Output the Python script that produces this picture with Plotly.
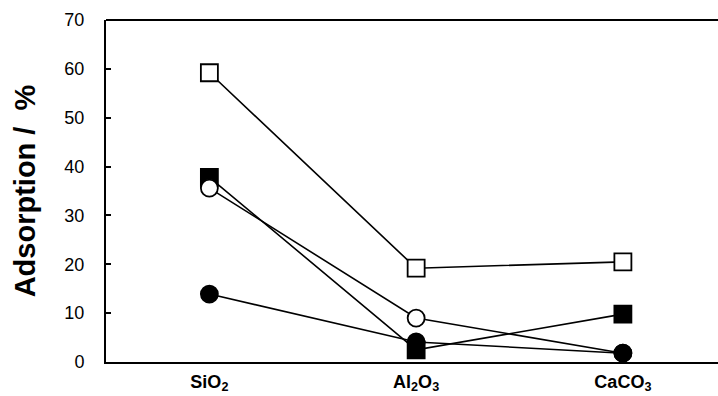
import plotly.graph_objects as go

categories = ["SiO<sub>2</sub>", "Al<sub>2</sub>O<sub>3</sub>", "CaCO<sub>3</sub>"]
open_square = [59.2, 19.2, 20.5]
filled_square = [37.8, 2.5, 9.8]
open_circle = [35.6, 9.0, 1.8]
filled_circle = [13.9, 4.1, 1.8]
y_ticks = [0, 10, 20, 30, 40, 50, 60, 70]

xs = list(range(len(categories)))
fig = go.Figure()

def add(y, symbol, fill):
    fig.add_trace(go.Scatter(
        x=xs, y=y, mode="lines+markers",
        line=dict(color="black", width=1.6),
        marker=dict(symbol=symbol, size=17, color=fill,
                    line=dict(color="black", width=1.8)),
        showlegend=False, cliponaxis=False))

add(filled_square, "square", "black")
add(open_circle, "circle", "white")
add(open_square, "square", "white")
add(filled_circle, "circle", "black")

fig.update_layout(
    width=718, height=396,
    margin=dict(l=106, r=0, t=20, b=34, autoexpand=False),
    paper_bgcolor="white", plot_bgcolor="white",
    font=dict(family="Liberation Sans, Arial, sans-serif", color="black"),
    xaxis=dict(
        range=[-0.5, 2.46], tickmode="array", tickvals=xs,
        ticktext=["<b>" + c + "</b>" for c in categories],
        showgrid=False, zeroline=False, showline=True, linecolor="black", linewidth=2,
        ticks="", tickfont=dict(size=18), ticklabelstandoff=2, automargin=False,
    ),
    yaxis=dict(
        range=[0, 70], tickvals=y_ticks,
        showgrid=False, zeroline=False, showline=True, linecolor="black", linewidth=2,
        ticks="inside", ticklen=5, tickcolor="black", tickwidth=1.5,
        tickfont=dict(size=18), ticklabelstandoff=16, automargin=False,
        title=dict(text="<b>Adsorption\u00a0/\u00a0\u00a0%</b>", font=dict(size=29), standoff=20),
    ),
    shapes=[dict(type="line", xref="paper", yref="paper", x0=0, x1=1, y0=1, y1=1,
                 line=dict(color="black", width=2))],
)

fig.write_html("out.html", config={"displayModeBar": False},
               post_script="document.body.style.margin='0';document.body.style.padding='0';")
